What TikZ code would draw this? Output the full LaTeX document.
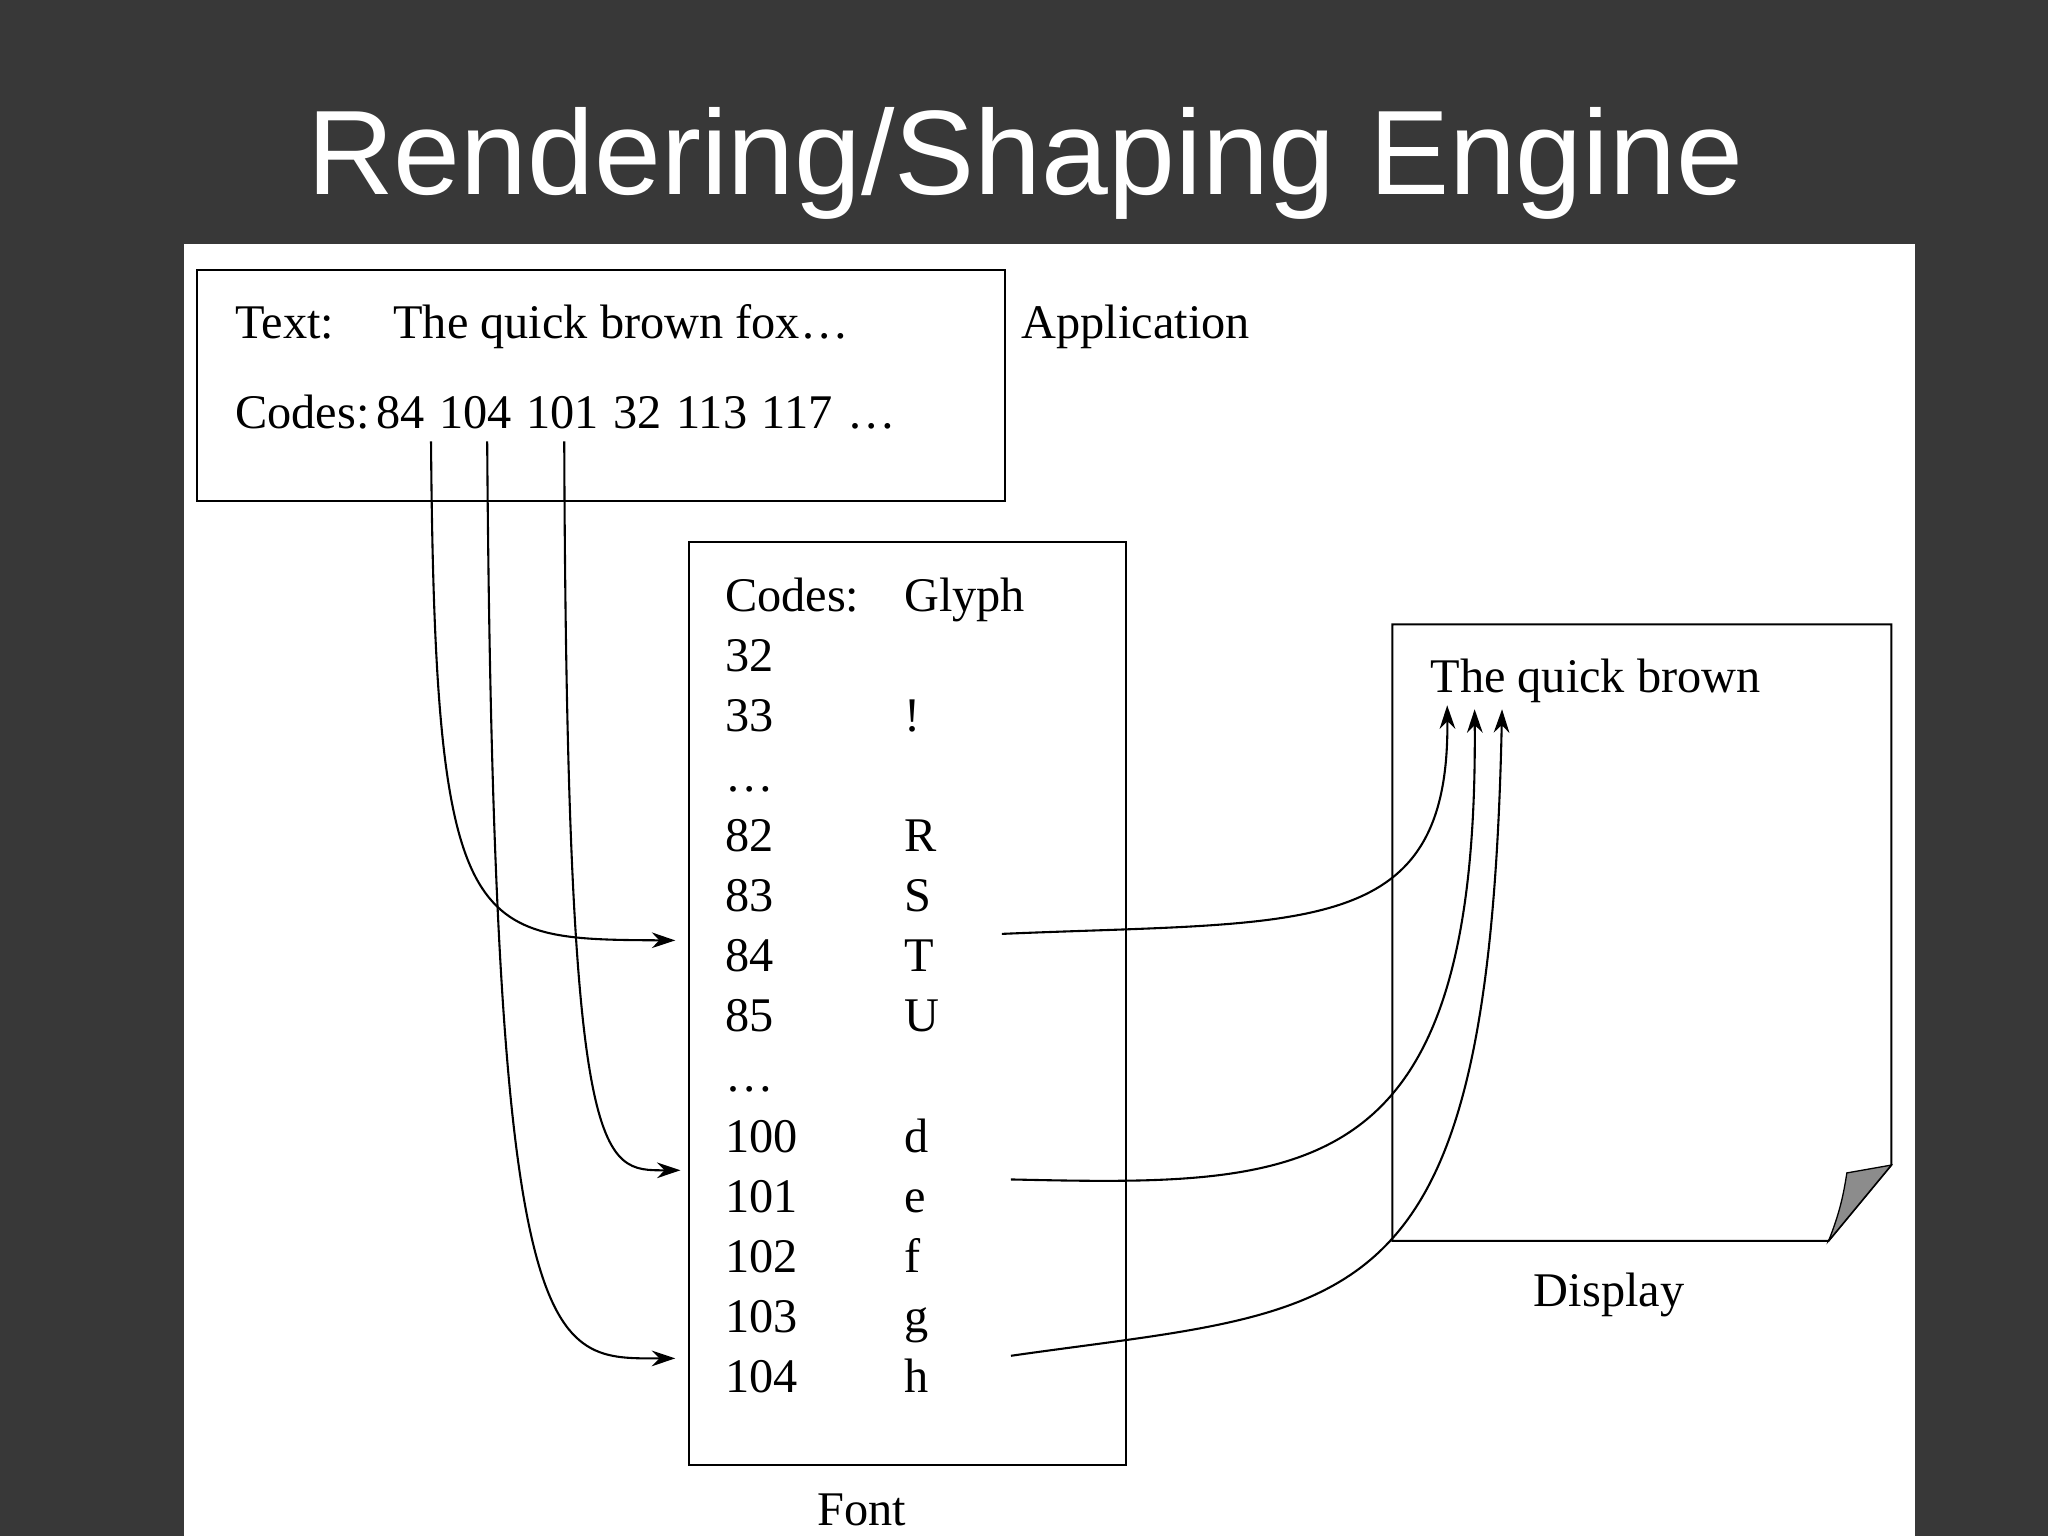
\documentclass[tikz,border=0pt]{standalone}
\usepackage{fontspec}
\setmainfont{Liberation Serif}
\newfontfamily\titlefont{Liberation Sans}
\usetikzlibrary{arrows.meta}
\begin{document}
\begin{tikzpicture}[x=1pt,y=-1pt,
  txt/.style={anchor=base west,inner sep=0pt,font=\fontsize{37}{40}\selectfont},
  box/.style={draw,line width=1.5pt},
  arr/.style={line width=1.6pt,-{Stealth[length=18pt,width=12pt]}},
  ln/.style={line width=1.6pt}]
\fill[black!78] (0,0) rectangle (1568,1176);
\useasboundingbox (0,0) rectangle (1568,1176);
\fill[white] (141,187) rectangle (1466,1176);
\node (title) [anchor=base,inner sep=0pt,text=white,font=\titlefont\fontsize{92}{100}\selectfont] at (785,149) {Rendering/Shaping Engine};
% application box
\node (app) [box,minimum width=619pt,minimum height=177pt,anchor=north west] at (150,206) {};
\node (t1) [txt] at (180,259) {Text:};
\node (t2) [txt] at (301,259) {The quick brown fox\ldots};
\node (c1) [txt] at (180,328) {Codes:\hspace{5pt}84\hspace{2pt} 104\hspace{2pt} 101\hspace{2pt} 32\hspace{2pt} 113\hspace{2pt} 117\hspace{2pt} \ldots};
\node (applab) [txt] at (782,259) {Application};
% font box
\node (font) [box,minimum width=334pt,minimum height=707pt,anchor=north west] at (527,414) {};
\node (h1) [txt] at (555,468) {Codes:};
\node (h2) [txt] at (692,468) {Glyph};
\foreach \c/\g/\y in {32//514,33/!/560,\ldots//606,82/R/652,83/S/698,84/T/744,85/U/790,\ldots//836,100/d/882,101/e/928,102/f/974,103/g/1020,104/h/1066}{
  \node[txt] at (555,\y) {\c};
  \node[txt] at (692,\y) {\g};
}
\node (fontlab) [anchor=base,inner sep=0pt,font=\fontsize{37}{40}\selectfont] at (660,1168) {Font};
% display page
\draw[line width=1.5pt] (1066,478) -- (1448,478) -- (1448,892) -- (1400,950) -- (1066,950) -- cycle;
\filldraw[fill=black!45,line width=1pt] (1448,892) -- (1400,950) .. controls (1410,925) and (1412,910) .. (1414,898) -- cycle;
\node (disp) [txt] at (1095,530) {The quick brown};
\node (displab) [anchor=base,inner sep=0pt,font=\fontsize{37}{40}\selectfont] at (1232,1000) {Display};
% connectors
\coordinate (s84) at (330,338);
\coordinate (s104) at (373,338);
\coordinate (s101) at (432,338);
\coordinate (r84) at (517,720);
\coordinate (r104) at (517,1040);
\coordinate (r101) at (521,896);
\draw[arr] (s84) .. controls (333,720) and (360,719) .. (r84);
\draw[arr] (s104) .. controls (378,1050) and (420,1040) .. (r104);
\draw[arr] (s101) .. controls (434,900) and (460,896) .. (r101);
\coordinate (oT) at (767,715);
\coordinate (oe) at (774,903);
\coordinate (oh) at (774,1038);
\coordinate (dT) at (1108,540);
\coordinate (de) at (1129,543);
\coordinate (dh) at (1150,543);
\draw[arr] (oT) .. controls (1000,705) and (1110,720) .. (dT);
\draw[arr] (oe) .. controls (1000,908) and (1132,910) .. (de);
\draw[arr] (oh) .. controls (1040,1000) and (1140,1020) .. (dh);
\end{tikzpicture}
\end{document}
